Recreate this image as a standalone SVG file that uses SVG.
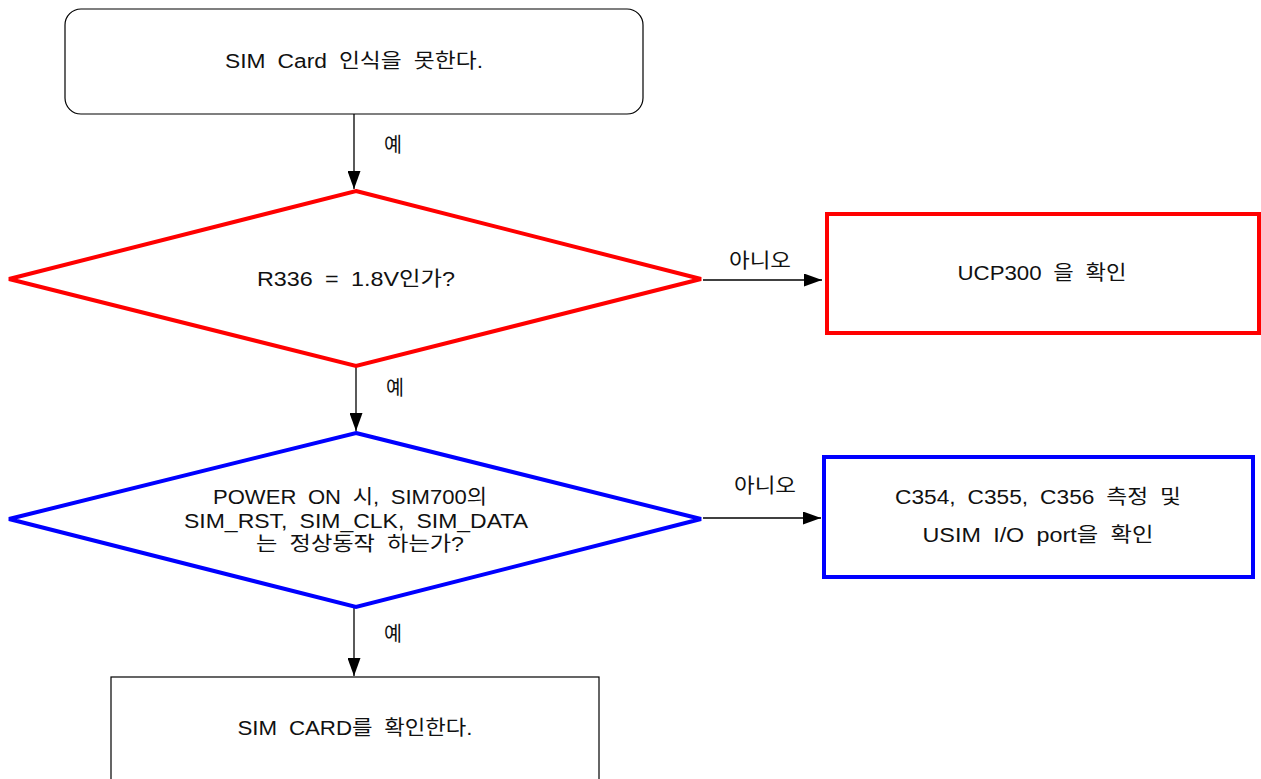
<svg xmlns="http://www.w3.org/2000/svg" width="1261" height="779" viewBox="0 0 1261 779">
<style>
text{font-family:"Liberation Sans","Noto Sans CJK KR",sans-serif;font-size:20px;fill:#111;text-anchor:middle;dominant-baseline:central;word-spacing:5px}
.conn{stroke:#000;stroke-width:1.3;fill:none;marker-end:url(#ah)}
.red{fill:#fff;stroke:#f00;stroke-width:4}
.blue{fill:#fff;stroke:#00f;stroke-width:4}
</style>
<defs>
<marker id="ah" markerWidth="18" markerHeight="13" refX="18" refY="6.5" orient="auto" markerUnits="userSpaceOnUse">
<path d="M0,0 L18,6.5 L0,13 Z" fill="#000"/>
</marker>
</defs>
<rect width="1261" height="779" fill="#fff"/>
<g id="connectors">
<line class="conn" x1="354" y1="114" x2="354" y2="189"/>
<line class="conn" x1="356" y1="367" x2="356" y2="431"/>
<line class="conn" x1="703" y1="280" x2="822" y2="280"/>
<line class="conn" x1="703" y1="518" x2="821" y2="518"/>
<line class="conn" x1="354" y1="608" x2="354" y2="676"/>
<text x="393" y="145" textLength="18" lengthAdjust="spacingAndGlyphs">예</text>
<text x="395" y="388" textLength="18" lengthAdjust="spacingAndGlyphs">예</text>
<text x="393" y="634" textLength="18" lengthAdjust="spacingAndGlyphs">예</text>
<text x="760" y="261" textLength="62" lengthAdjust="spacingAndGlyphs">아니오</text>
<text x="765" y="486" textLength="62" lengthAdjust="spacingAndGlyphs">아니오</text>
</g>
<g id="start">
<rect x="65" y="9" width="578" height="105" rx="16" fill="#fff" stroke="#000" stroke-width="1.2"/>
<text x="354" y="61" textLength="258" lengthAdjust="spacingAndGlyphs">SIM Card 인식을 못한다.</text>
</g>
<g id="dec1">
<polygon class="red" points="356,191 701,279 356,366 9,279"/>
<text x="356" y="279" textLength="198" lengthAdjust="spacingAndGlyphs">R336 = 1.8V인가?</text>
</g>
<g id="ucp">
<rect class="red" x="827" y="214" width="432" height="119"/>
<text x="1042" y="273" textLength="169" lengthAdjust="spacingAndGlyphs">UCP300 을 확인</text>
</g>
<g id="dec2">
<polygon class="blue" points="356,433 701,519 356,607 9,519"/>
<text x="350" y="497" textLength="274" lengthAdjust="spacingAndGlyphs">POWER ON 시, SIM700의</text>
<text x="356" y="521" textLength="344" lengthAdjust="spacingAndGlyphs">SIM_RST, SIM_CLK, SIM_DATA</text>
<text x="360" y="544" textLength="208" lengthAdjust="spacingAndGlyphs">는 정상동작 하는가?</text>
</g>
<g id="check">
<rect class="blue" x="824" y="457" width="429" height="120"/>
<text x="1038" y="497" textLength="286" lengthAdjust="spacingAndGlyphs">C354, C355, C356 측정 및</text>
<text x="1038" y="535" textLength="231" lengthAdjust="spacingAndGlyphs">USIM I/O port을 확인</text>
</g>
<g id="simcard">
<rect x="111" y="677" width="488" height="110" fill="#fff" stroke="#000" stroke-width="1.2"/>
<text x="355" y="728" textLength="235" lengthAdjust="spacingAndGlyphs">SIM CARD를 확인한다.</text>
</g>
</svg>
